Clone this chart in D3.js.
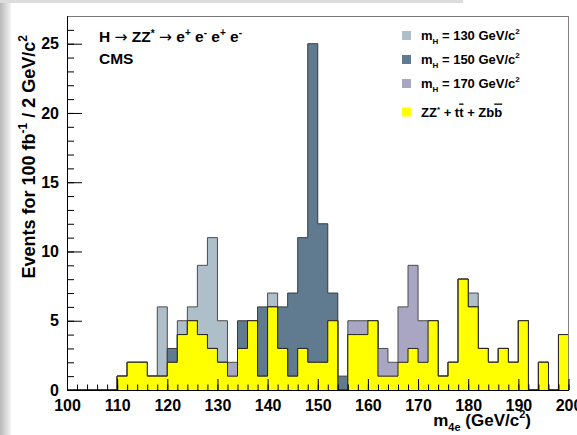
<!DOCTYPE html>
<html lang="en">
<head>
<meta charset="utf-8">
<title>H to ZZ* to 4e</title>
<script src="https://d3js.org/d3.v7.min.js"></script>
<style>
  body { margin: 0; background: #fff; }
  svg text { font-family: "Liberation Sans", Arial, Helvetica, sans-serif; font-weight: bold; fill: #000; }
</style>
</head>
<body>
<script>
// 2 GeV bins from 100 to 200 GeV/c2 (lower edges)
var binLow = d3.range(100, 200, 2);
var binWidth = 2;

// background ZZ* + ttbar + Zbb, events per bin
var bkg = [0,0,0,0,0, 1,2,2,1,1,  2,4,5,4,3, 2,1,3,5,1,  6,3,1,3,2,
           2,5,0,4,4, 5,1,1,2,3,  2,5,1,2,8, 6,3,2,3,2,  5,0,2,0,4];
// signal on top of background, per mass hypothesis
var sig130 = [0,0,0,0,0, 0,0,0,0,5,  0,1,1,5,8, 3,0,0,0,0,  1,0,0,0,0,
              0,0,0,0,0, 0,0,0,0,0,  0,0,0,0,0, 1,0,0,0,0,  0,0,0,0,0];
var sig150 = [0,0,0,0,0, 0,0,0,0,0,  1,0,0,0,0, 0,0,2,0,5,  0,3,6,8,23,
              10,2,1,0,0, 0,0,0,0,0, 0,0,0,0,0, 0,0,0,0,0,  0,0,0,0,0];
var sig170 = [0,0,0,0,0, 0,0,0,0,0,  0,0,0,0,0, 0,1,0,0,0,  0,0,0,0,0,
              0,0,0,1,1, 0,2,1,4,6,  3,0,0,0,0, 0,0,0,0,0,  0,0,0,0,0];

var xTicks = d3.range(100, 201, 10);
var yTicks = [0, 5, 10, 15, 20, 25];

var W = 577, H = 435;
var svg = d3.select("body").append("svg").attr("width", W).attr("height", H);

// screenshot edge shading
var grad = svg.append("defs").append("linearGradient").attr("id", "edge");
grad.append("stop").attr("offset", "0").attr("stop-color", "#b8b8b8");
grad.append("stop").attr("offset", "1").attr("stop-color", "#f4f4f4");
svg.append("rect").attr("x", 0).attr("y", 0).attr("width", 11).attr("height", H).attr("fill", "url(#edge)");
svg.append("rect").attr("x", 0).attr("y", 0).attr("width", 463).attr("height", 3).attr("fill", "#dcdcdc");

var padL = 67, padR = 568.5, padT = 16, padB = 390;
var x = d3.scaleLinear().domain([100, 200]).range([padL, padR]);
var y = d3.scaleLinear().domain([0, 27]).range([padB, padT]);

function steps(vals) {
  var pts = [];
  vals.forEach(function(v, i) {
    pts.push([binLow[i], v]);
    pts.push([binLow[i] + binWidth, v]);
  });
  return pts;
}
var area = d3.area().x(function(d) { return x(d[0]); }).y0(y(0)).y1(function(d) { return y(d[1]); });
var line = d3.line().x(function(d) { return x(d[0]); }).y(function(d) { return y(d[1]); });

function drawHist(vals, fill, stroke) {
  var pts = steps(vals);
  svg.append("path").attr("d", area(pts)).attr("fill", fill);
  var outline = [[100, 0]].concat(pts, [[200, 0]]);
  svg.append("path").attr("d", line(outline)).attr("fill", "none")
    .attr("stroke", stroke).attr("stroke-width", 1);
}

var colors = { s130: "#afbfca", s150: "#607b8f", s170: "#a9a6c3", bkg: "#ffff00" };

drawHist(bkg.map(function(b, i) { return b + sig130[i]; }), colors.s130, "#4a4a4a");
drawHist(bkg.map(function(b, i) { return b + sig150[i]; }), colors.s150, "#3a3a3a");
drawHist(bkg.map(function(b, i) { return b + sig170[i]; }), colors.s170, "#4a4a4a");
drawHist(bkg, colors.bkg, "#222");

// frame
svg.append("line").attr("x1", padL).attr("x2", padR).attr("y1", padT + 0.5).attr("y2", padT + 0.5).attr("stroke", "#777");
svg.append("line").attr("x1", padR).attr("x2", padR).attr("y1", padT).attr("y2", padB).attr("stroke", "#8a7f7f");

// y axis
svg.append("g").attr("transform", "translate(" + padL + ",0)")
  .call(d3.axisLeft(y).tickValues(yTicks).tickSize(-15).tickSizeOuter(0).tickPadding(8));
svg.append("g").attr("transform", "translate(" + padL + ",0)")
  .call(d3.axisLeft(y).tickValues(d3.range(0, 27)).tickSize(-7).tickSizeOuter(0).tickFormat(""));
// x axis
svg.append("g").attr("transform", "translate(0," + padB + ")")
  .call(d3.axisBottom(x).tickValues(xTicks).tickSize(-11).tickSizeOuter(0).tickPadding(10));
svg.append("g").attr("transform", "translate(0," + padB + ")")
  .call(d3.axisBottom(x).tickValues(d3.range(100, 201, 2)).tickSize(-5.5).tickSizeOuter(0).tickFormat(""));

svg.selectAll(".tick text").attr("font-size", 16).attr("font-family", null);
svg.selectAll(".domain, .tick line").attr("stroke", "#000");

// axis titles
var yt = svg.append("text").attr("transform", "translate(35,35) rotate(-90)")
  .attr("text-anchor", "end").attr("font-size", 18);
yt.append("tspan").text("Events for 100 fb");
yt.append("tspan").attr("font-size", 12).attr("dy", -8).text("-1");
yt.append("tspan").attr("dy", 8).text(" / 2 GeV/c");
yt.append("tspan").attr("font-size", 12).attr("dy", -8).text("2");

var xt = svg.append("text").attr("x", 531).attr("y", 426).attr("text-anchor", "end").attr("font-size", 17);
xt.append("tspan").text("m");
xt.append("tspan").attr("font-size", 11).attr("dy", 5).text("4e");
xt.append("tspan").attr("dy", -5).text(" (GeV/c");
xt.append("tspan").attr("font-size", 11).attr("dy", -8).text("2");
xt.append("tspan").attr("dy", 8).text(")");

// process label
var arrowFont = "DejaVu Sans";
var t1 = svg.append("text").attr("x", 99).attr("y", 42).attr("font-size", 15.5);
t1.append("tspan").text("H ");
t1.append("tspan").attr("font-family", arrowFont).attr("font-weight", "normal").text("\u2192");
t1.append("tspan").text(" ZZ");
t1.append("tspan").attr("font-size", 10).attr("dy", -5).text("*");
t1.append("tspan").attr("dy", 5).text(" ");
t1.append("tspan").attr("font-family", arrowFont).attr("font-weight", "normal").text("\u2192");
t1.append("tspan").text(" e");
t1.append("tspan").attr("font-size", 10).attr("dy", -6).text("+");
t1.append("tspan").attr("dy", 6).text(" e");
t1.append("tspan").attr("font-size", 10).attr("dy", -6).text("-");
t1.append("tspan").attr("dy", 6).text(" e");
t1.append("tspan").attr("font-size", 10).attr("dy", -6).text("+");
t1.append("tspan").attr("dy", 6).text(" e");
t1.append("tspan").attr("font-size", 10).attr("dy", -6).text("-");
svg.append("text").attr("x", 99).attr("y", 64).attr("font-size", 15.5).text("CMS");

// legend
var legendMass = ["130", "150", "170"];
var legendColors = [colors.s130, colors.s150, colors.s170];
var legendY = [35.5, 59.5, 83.5];
legendMass.forEach(function(m, i) {
  svg.append("rect").attr("x", 402).attr("y", legendY[i] - 4.5).attr("width", 9).attr("height", 9)
    .attr("fill", legendColors[i]);
  var t = svg.append("text").attr("x", 421).attr("y", legendY[i] + 4.5).attr("font-size", 13);
  t.append("tspan").text("m");
  t.append("tspan").attr("font-size", 8).attr("dy", 4).text("H");
  t.append("tspan").attr("dy", -4).text(" = " + m + " GeV/c");
  t.append("tspan").attr("font-size", 8).attr("dy", -6).text("2");
});
svg.append("rect").attr("x", 402).attr("y", 107.5).attr("width", 9).attr("height", 9).attr("fill", colors.bkg);
var lb = svg.append("text").attr("x", 421).attr("y", 116.5).attr("font-size", 13);
lb.append("tspan").text("ZZ");
lb.append("tspan").attr("font-size", 8).attr("dy", -5).text("*");
lb.append("tspan").attr("dy", 5).text(" + t");
lb.append("tspan").attr("text-decoration", "overline").text("t");
lb.append("tspan").text(" + Zb");
lb.append("tspan").attr("text-decoration", "overline").text("b");
</script>
</body>
</html>
